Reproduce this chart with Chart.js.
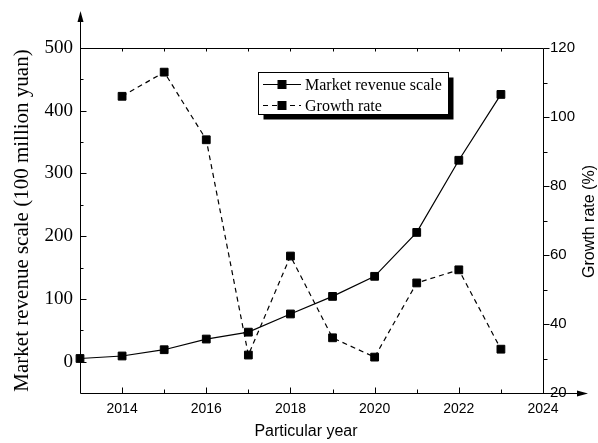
<!DOCTYPE html>
<html>
<head>
<meta charset="utf-8">
<script src="https://cdn.jsdelivr.net/npm/chart.js@4/dist/chart.umd.min.js"></script>
<style>
  html, body { margin: 0; padding: 0; background: #fff; }
  #wrap { width: 598px; height: 443px; }
</style>
</head>
<body>
<div id="wrap"><canvas id="c" width="598" height="443"></canvas></div>
<script>
// Years and the two series
const years = [2013, 2014, 2015, 2016, 2017, 2018, 2019, 2020, 2021, 2022, 2023];
const revenue = [5, 9, 19, 36, 47, 76, 104, 136, 206, 321, 426];          // 100 million yuan
const growth = [null, 106, 113, 93.4, 31, 59.7, 36, 30.4, 51.9, 55.7, 32.7]; // %

// Tick values
const xTicks = [2014, 2016, 2018, 2020, 2022, 2024];
const revTicks = [0, 100, 200, 300, 400, 500];
const rateTicks = [20, 40, 60, 80, 100, 120];

const labels = {
  revenue: 'Market revenue scale',
  growth: 'Growth rate',
  xTitle: 'Particular year',
  yLeftTitle: 'Market revenue scale (100 million yuan)',
  yRightTitle: 'Growth rate (%)'
};

const SERIF = '"Liberation Serif", "Times New Roman", serif';
const SANS = '"Liberation Sans", Arial, sans-serif';

function toPoints(xs, ys) {
  const pts = [];
  xs.forEach((x, i) => { if (ys[i] !== null) pts.push({ x: x, y: ys[i] }); });
  return pts;
}

// Frame, arrows and inward/outward tick marks
const framePlugin = {
  id: 'frame',
  afterDatasetsDraw(chart) {
    const ctx = chart.ctx;
    const a = chart.chartArea;
    const sx = chart.scales.x, sl = chart.scales.yL, sr = chart.scales.yR;
    const L = Math.round(a.left) + 0.5, R = Math.round(a.right) + 0.5;
    const T = Math.round(a.top) + 0.5, B = Math.round(a.bottom) + 0.5;
    ctx.save();
    ctx.strokeStyle = '#000';
    ctx.fillStyle = '#000';
    ctx.lineWidth = 1;
    ctx.setLineDash([]);
    ctx.beginPath();
    // left axis with arrow
    ctx.moveTo(L, B); ctx.lineTo(L, 20);
    // bottom axis with arrow
    ctx.moveTo(L, B); ctx.lineTo(580, B);
    // top and right frame
    ctx.moveTo(L, T); ctx.lineTo(R, T);
    ctx.moveTo(R, T); ctx.lineTo(R, B);

    // x ticks (inward, bottom and top)
    for (let yr = 2014; yr <= 2023; yr++) {
      const px = Math.round(sx.getPixelForValue(yr)) + 0.5;
      const len = yr % 2 === 0 ? 6 : 4;
      ctx.moveTo(px, B); ctx.lineTo(px, B - len);
      ctx.moveTo(px, T); ctx.lineTo(px, T + 3);
    }
    // left ticks (inward)
    for (let v = 0; v <= 450; v += 50) {
      const py = Math.round(sl.getPixelForValue(v)) + 0.5;
      const len = v % 100 === 0 ? 6 : 3;
      ctx.moveTo(L, py); ctx.lineTo(L + len, py);
    }
    // right ticks (outward)
    for (let v = 20; v <= 120; v += 10) {
      const py = Math.round(sr.getPixelForValue(v)) + 0.5;
      const len = v % 20 === 0 ? 6 : 4;
      ctx.moveTo(R, py); ctx.lineTo(R + len, py);
    }
    ctx.stroke();

    // arrowheads
    ctx.beginPath();
    ctx.moveTo(L, 11); ctx.lineTo(L - 3, 22); ctx.lineTo(L + 3, 22); ctx.closePath();
    ctx.fill();
    ctx.beginPath();
    ctx.moveTo(588, B); ctx.lineTo(577, B - 3); ctx.lineTo(577, B + 3); ctx.closePath();
    ctx.fill();
    ctx.restore();
  }
};

// Axis titles
const titlesPlugin = {
  id: 'titles',
  afterDraw(chart) {
    const ctx = chart.ctx;
    const a = chart.chartArea;
    const midY = (a.top + a.bottom) / 2;
    ctx.save();
    ctx.fillStyle = '#000';
    ctx.textAlign = 'center';
    ctx.textBaseline = 'middle';

    ctx.font = '16px ' + SANS;
    ctx.fillText(labels.xTitle, 306, 432);

    ctx.save();
    ctx.translate(22, midY);
    ctx.rotate(-Math.PI / 2);
    ctx.font = '21px ' + SERIF;
    ctx.fillText(labels.yLeftTitle, 0, 0);
    ctx.restore();

    ctx.save();
    ctx.translate(590, midY + 1);
    ctx.rotate(-Math.PI / 2);
    ctx.font = '16px ' + SANS;
    ctx.fillText(labels.yRightTitle, 0, 0);
    ctx.restore();
    ctx.restore();
  }
};

// Boxed legend with a drop shadow
const boxLegendPlugin = {
  id: 'boxLegend',
  afterDraw(chart) {
    const ctx = chart.ctx;
    const bx = 258.5, by = 72.5, bw = 190, bh = 42;
    ctx.save();
    ctx.fillStyle = '#000';
    ctx.fillRect(bx + 5, by + 5, bw, bh);
    ctx.fillStyle = '#fff';
    ctx.fillRect(bx, by, bw, bh);
    ctx.strokeStyle = '#000';
    ctx.lineWidth = 1;
    ctx.strokeRect(bx, by, bw, bh);

    const rows = [84.5, 105.5];
    chart.data.datasets.forEach((ds, i) => {
      const y = rows[i];
      ctx.strokeStyle = ds.borderColor;
      ctx.lineWidth = ds.borderWidth;
      ctx.setLineDash(ds.borderDash || []);
      ctx.beginPath();
      ctx.moveTo(263, y); ctx.lineTo(301, y);
      ctx.stroke();
      ctx.setLineDash([]);
      Chart.helpers.drawPoint(ctx, {
        pointStyle: ds.pointStyle, radius: ds.pointRadius, borderWidth: 1, rotation: 0
      }, 282, y);
      ctx.fillStyle = '#000';
      ctx.fill();
      ctx.fillStyle = '#000';
      ctx.font = '16px ' + SERIF;
      ctx.textAlign = 'left';
      ctx.textBaseline = 'middle';
      ctx.fillText(ds.label, 305, y + 1);
    });
    ctx.restore();
  }
};

new Chart(document.getElementById('c'), {
  type: 'line',
  data: {
    datasets: [
      {
        label: labels.revenue,
        data: toPoints(years, revenue),
        yAxisID: 'yL',
        borderColor: '#000',
        backgroundColor: '#000',
        borderWidth: 1.2,
        pointStyle: 'rect',
        pointRadius: 5.5,
        pointBorderWidth: 1,
        pointBackgroundColor: '#000',
        pointBorderColor: '#000',
        tension: 0,
        clip: false
      },
      {
        label: labels.growth,
        data: toPoints(years, growth),
        yAxisID: 'yR',
        borderColor: '#000',
        backgroundColor: '#000',
        borderWidth: 1.2,
        borderDash: [5, 4],
        pointStyle: 'rect',
        pointRadius: 5.5,
        pointBorderWidth: 1,
        pointBackgroundColor: '#000',
        pointBorderColor: '#000',
        tension: 0,
        clip: false
      }
    ]
  },
  options: {
    responsive: false,
    animation: false,
    devicePixelRatio: 1,
    layout: { padding: { top: 48, left: 0, right: 0, bottom: 0 } },
    plugins: { legend: { display: false }, tooltip: { enabled: false } },
    scales: {
      x: {
        type: 'linear',
        position: 'bottom',
        min: 2013,
        max: 2024,
        grid: { display: false, drawTicks: false },
        border: { display: false },
        afterBuildTicks: s => { s.ticks = xTicks.map(v => ({ value: v })); },
        afterFit: s => { s.height = 50; },
        ticks: {
          color: '#000',
          padding: 8,
          maxRotation: 0,
          autoSkip: false,
          font: { family: SANS, size: 14 },
          callback: v => String(v)
        }
      },
      yL: {
        type: 'linear',
        position: 'left',
        min: -50,
        max: 500,
        grid: { display: false, drawTicks: false },
        border: { display: false },
        afterBuildTicks: s => { s.ticks = revTicks.map(v => ({ value: v })); },
        afterFit: s => { s.width = 80; },
        ticks: {
          color: '#000',
          padding: 7,
          font: { family: SERIF, size: 19 }
        }
      },
      yR: {
        type: 'linear',
        position: 'right',
        min: 20,
        max: 120,
        grid: { display: false, drawTicks: false },
        border: { display: false },
        afterBuildTicks: s => { s.ticks = rateTicks.map(v => ({ value: v })); },
        afterFit: s => { s.width = 55; },
        ticks: {
          color: '#000',
          padding: 7,
          font: { family: SANS, size: 15 }
        }
      }
    }
  },
  plugins: [framePlugin, titlesPlugin, boxLegendPlugin]
});
</script>
</body>
</html>
